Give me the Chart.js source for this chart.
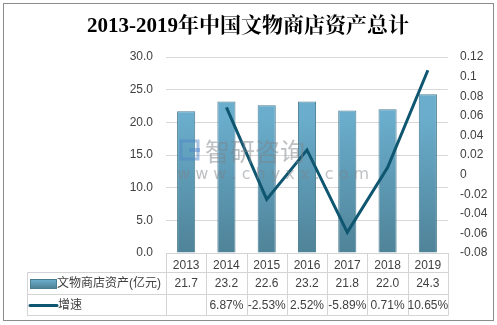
<!DOCTYPE html>
<html>
<head>
<meta charset="utf-8">
<script src="https://cdn.jsdelivr.net/npm/chart.js@4"></script>
<style>
    html, body { margin: 0; padding: 0; background: #fff; }
    #wrap { width: 497px; height: 325px; }
</style>
</head>
<body>
<div id="wrap"><canvas id="assetChart" width="497" height="325"></canvas></div>
<script>
// Chart data
const years = ['2013', '2014', '2015', '2016', '2017', '2018', '2019'];
const assets = [21.7, 23.2, 22.6, 23.2, 21.8, 22.0, 24.3];
const growth = [null, 0.0687, -0.0253, 0.0252, -0.0589, 0.0071, 0.1065];
const leftTicks = [0, 30, 5];
const rightTicks = [-0.08, 0.12, 0.02];

const titleText = '2013-2019年中国文物商店资产总计';
const assetLabel = '文物商店资产(亿元)';
const growthLabel = '增速';

const textColor = '#404040';
const lineColor = '#0f5670';
const tableLine = '#d4d4d4';
const baseFont = '"Liberation Sans", "Noto Sans CJK SC", sans-serif';

function barGradient(ctx, area) {
    const g = ctx.createLinearGradient(0, area.top + 60, 0, area.bottom);
    g.addColorStop(0, '#6aadcc');
    g.addColorStop(1, '#4f8398');
    return g;
}

// Title, frame, watermark and data table
const extrasPlugin = {
    id: 'extras',
    beforeDraw(chart) {
        const ctx = chart.ctx;
        ctx.save();
        ctx.strokeStyle = '#8c8c8c';
        ctx.lineWidth = 1;
        ctx.strokeRect(3.5, 3.5, 490, 317);
        ctx.fillStyle = '#000';
        ctx.font = 'bold 21px "Liberation Serif", "Noto Serif CJK SC", "Noto Sans CJK SC", serif';
        ctx.textAlign = 'center';
        ctx.textBaseline = 'middle';
        ctx.fillText(titleText, 248, 27);
        ctx.restore();
    },
    afterDraw(chart) {
        const ctx = chart.ctx;
        const x = chart.scales.x;
        const area = chart.chartArea;
        const colW = (area.right - area.left) / years.length;
        const rowTops = [area.bottom, 272, 294, 315];
        const tableLeft = 27;

        ctx.save();

        // watermark
        ctx.globalAlpha = 0.5;
        ctx.strokeStyle = '#4f86c6';
        ctx.lineWidth = 3;
        ctx.strokeRect(181, 141, 17, 18);
        ctx.fillStyle = '#4f86c6';
        ctx.fillRect(189, 148, 11, 4);
        ctx.fillStyle = '#7d838a';
        ctx.font = '25px "Noto Sans CJK SC", sans-serif';
        ctx.textAlign = 'left';
        ctx.textBaseline = 'middle';
        ctx.fillText('智研咨询', 205, 151);
        ctx.font = '16px "DejaVu Sans", sans-serif';
        ctx.fillText('w w w . c h y x x . c o m', 177, 175);
        ctx.globalAlpha = 1;

        // table grid
        ctx.strokeStyle = tableLine;
        ctx.lineWidth = 1;
        ctx.beginPath();
        ctx.moveTo(area.left, rowTops[0] + 0.5);
        ctx.lineTo(area.right, rowTops[0] + 0.5);
        for (let r = 1; r < rowTops.length; r++) {
            ctx.moveTo(tableLeft, rowTops[r] + 0.5);
            ctx.lineTo(area.right, rowTops[r] + 0.5);
        }
        for (let i = 0; i <= years.length; i++) {
            const px = Math.round(area.left + i * colW) + 0.5;
            ctx.moveTo(px, rowTops[0]);
            ctx.lineTo(px, rowTops[3] + 0.5);
        }
        ctx.moveTo(tableLeft + 0.5, rowTops[1]);
        ctx.lineTo(tableLeft + 0.5, rowTops[3] + 0.5);
        ctx.stroke();

        // legend keys
        const r2 = (rowTops[1] + rowTops[2]) / 2 + 1;
        const r3 = (rowTops[2] + rowTops[3]) / 2 + 1;
        const sg = ctx.createLinearGradient(0, r2 - 4, 0, r2 + 4);
        sg.addColorStop(0, '#6aadcc');
        sg.addColorStop(1, '#4f8398');
        ctx.fillStyle = sg;
        ctx.fillRect(31, r2 - 4, 25, 8);
        ctx.strokeStyle = '#4a7d92';
        ctx.strokeRect(30.5, r2 - 4.5, 26, 9);
        ctx.strokeStyle = lineColor;
        ctx.lineWidth = 3;
        ctx.lineCap = 'round';
        ctx.beginPath();
        ctx.moveTo(30, r3);
        ctx.lineTo(57, r3);
        ctx.stroke();

        ctx.fillStyle = textColor;
        ctx.font = '12px ' + baseFont;
        ctx.textAlign = 'left';
        ctx.textBaseline = 'middle';
        ctx.fillText(assetLabel, 57, r2);
        ctx.fillText(growthLabel, 58, r3);

        ctx.textAlign = 'center';
        years.forEach((yr, i) => {
            const cx = x.getPixelForValue(i);
            ctx.fillText(assets[i].toFixed(1), cx, r2);
            if (growth[i] !== null) {
                ctx.fillText((growth[i] * 100).toFixed(2) + '%', cx, r3);
            }
        });
        ctx.restore();
    }
};

const ctx = document.getElementById('assetChart').getContext('2d');
new Chart(ctx, {
    data: {
        labels: years,
        datasets: [
            {
                type: 'line',
                label: growthLabel,
                data: growth,
                yAxisID: 'y1',
                borderColor: lineColor,
                borderWidth: 3,
                pointRadius: 0,
                tension: 0,
                order: 0
            },
            {
                type: 'bar',
                label: assetLabel,
                data: assets,
                yAxisID: 'y',
                backgroundColor: (c) => {
                    const area = c.chart.chartArea;
                    if (!area) return '#5d9bb8';
                    return barGradient(c.chart.ctx, area);
                },
                borderColor: '#4a7d92',
                borderWidth: 1,
                barPercentage: 0.45,
                categoryPercentage: 1,
                order: 1
            }
        ]
    },
    options: {
        responsive: false,
        animation: false,
        layout: {
            padding: { top: 57, left: 0, right: 0, bottom: 0 }
        },
        plugins: {
            legend: { display: false },
            title: { display: false },
            tooltip: { enabled: false }
        },
        scales: {
            x: {
                grid: { display: false, drawTicks: false },
                border: { display: false },
                ticks: {
                    color: textColor,
                    font: { size: 12, family: baseFont },
                    padding: 5
                },
                afterFit(scale) { scale.height = 72; }
            },
            y: {
                position: 'left',
                min: leftTicks[0],
                max: leftTicks[1],
                grid: { color: '#d9d9d9', drawTicks: false },
                border: { display: false },
                ticks: {
                    stepSize: leftTicks[2],
                    color: textColor,
                    font: { size: 12, family: baseFont },
                    padding: 13,
                    callback: (v) => v.toFixed(1)
                },
                afterFit(scale) { scale.width = 166; }
            },
            y1: {
                position: 'right',
                min: rightTicks[0],
                max: rightTicks[1],
                grid: { display: false, drawTicks: false },
                border: { display: false },
                ticks: {
                    stepSize: rightTicks[2],
                    color: textColor,
                    font: { size: 12, family: baseFont },
                    padding: 12,
                    callback: (v) => String(parseFloat(v.toFixed(2)))
                },
                afterFit(scale) { scale.width = 49; }
            }
        }
    },
    plugins: [extrasPlugin]
});
</script>
</body>
</html>
